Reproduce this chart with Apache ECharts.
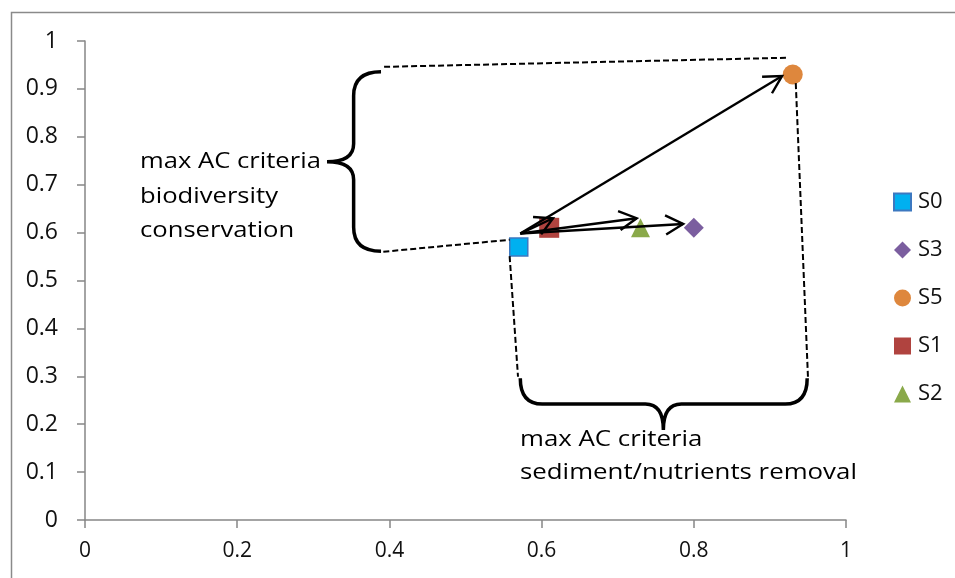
<!DOCTYPE html>
<html><head><meta charset="utf-8">
<script src="https://cdn.jsdelivr.net/npm/echarts@6/dist/echarts.min.js"></script>
<style>html,body{margin:0;padding:0;background:#fff}#c{width:955px;height:578px}</style>
</head><body><div id="c"></div>
<script>
// Data
const seriesNames = ['S0', 'S3', 'S5', 'S1', 'S2'];
const xValues = [0.57, 0.80, 0.93, 0.61, 0.73];
const yValues = [0.57, 0.61, 0.93, 0.61, 0.61];
const xTicks = [0, 0.2, 0.4, 0.6, 0.8, 1];
const yTicks = [0, 0.1, 0.2, 0.3, 0.4, 0.5, 0.6, 0.7, 0.8, 0.9, 1];
// Annotation arrows (data units): start and ends
const arrowStart = [0.572, 0.598];
const arrowEnds = [[0.916, 0.927], [0.615, 0.630], [0.725, 0.630], [0.786, 0.618]];
// Dashed guide lines (data units)
const dashedLines = [
  [[0.393, 0.946], [0.922, 0.965]],
  [[0.392, 0.560], [0.558, 0.585]],
  [[0.558, 0.551], [0.569, 0.299]],
  [[0.934, 0.912], [0.950, 0.299]]
];
const leftLabel = ['max AC criteria', 'biodiversity', 'conservation'];
const bottomLabel = ['max AC criteria', 'sediment/nutrients removal'];

const styles = {
  S0: {symbol: 'rect', size: 18, color: '#00B0F0', border: '#3C78C0', bw: 1.5},
  S3: {symbol: 'diamond', size: 20, color: '#7B5E9F', border: '#7B5E9F', bw: 0},
  S5: {symbol: 'circle', size: 20, color: '#DE873D', border: '#DE873D', bw: 0},
  S1: {symbol: 'rect', size: 20, color: '#B0433F', border: '#B0433F', bw: 0},
  S2: {symbol: 'triangle', size: 19, color: '#8AA94A', border: '#8AA94A', bw: 0}
};
const FONT = 'Open Sans';

const scatterSeries = seriesNames.map((n, i) => ({
  name: n, type: 'scatter', z: 3,
  symbol: styles[n].symbol, symbolSize: styles[n].size,
  itemStyle: {color: styles[n].color, borderColor: styles[n].border, borderWidth: styles[n].bw, opacity: 1},
  data: [[xValues[i], yValues[i]]]
}));

function annotRender(params, api) {
  const children = [];
  dashedLines.forEach(l => {
    const a = api.coord(l[0]), b = api.coord(l[1]);
    children.push({type: 'line', shape: {x1: a[0], y1: a[1], x2: b[0], y2: b[1]},
      style: {stroke: '#000', lineWidth: 2, lineDash: [6, 3]}});
  });
  const s = api.coord(arrowStart);
  arrowEnds.forEach(e => {
    const t = api.coord(e);
    const ang = Math.atan2(t[1] - s[1], t[0] - s[0]);
    const L = 20, spread = 0.5;
    const p1 = [t[0] - L * Math.cos(ang - spread), t[1] - L * Math.sin(ang - spread)];
    const p2 = [t[0] - L * Math.cos(ang + spread), t[1] - L * Math.sin(ang + spread)];
    children.push({type: 'line', shape: {x1: s[0], y1: s[1], x2: t[0], y2: t[1]}, style: {stroke: '#000', lineWidth: 2.4}});
    children.push({type: 'polyline', shape: {points: [p1, t, p2]}, style: {stroke: '#000', lineWidth: 2.4, fill: null}});
  });
  const lt = api.coord([0.389, 0.936]), lb = api.coord([0.389, 0.561]);
  const sp = api.coord([0.353, 0.7])[0], tip = api.coord([0.318, 0.748]);
  const ex = lt[0], top = lt[1], bot = lb[1], mid = tip[1], tx = tip[0];
  const lp = `M${ex},${top} Q${sp},${top} ${sp},${top + 24} L${sp},${mid - 18} Q${sp},${mid} ${tx},${mid} Q${sp},${mid} ${sp},${mid + 18} L${sp},${bot - 24} Q${sp},${bot} ${ex},${bot}`;
  children.push({type: 'path', shape: {pathData: lp}, style: {stroke: '#000', lineWidth: 3.5, fill: null}});
  const bl = api.coord([0.572, 0.296]), br = api.coord([0.949, 0.296]);
  const spy = api.coord([0.7, 0.242])[1], btip = api.coord([0.760, 0.188]);
  const by = bl[1], lx = bl[0], rx = br[0], tpx = btip[0], tpy = btip[1];
  const bp = `M${lx},${by} Q${lx},${spy} ${lx + 22},${spy} L${tpx - 18},${spy} Q${tpx},${spy} ${tpx},${tpy} Q${tpx},${spy} ${tpx + 18},${spy} L${rx - 22},${spy} Q${rx},${spy} ${rx},${by}`;
  children.push({type: 'path', shape: {pathData: bp}, style: {stroke: '#000', lineWidth: 3.5, fill: null}});
  return {type: 'group', children};
}

const chart = echarts.init(document.getElementById('c'), null, {renderer: 'canvas'});
chart.setOption({
  animation: false,
  backgroundColor: '#fff',
  grid: {left: 85, right: 109, top: 41, bottom: 58, containLabel: false},
  xAxis: {
    type: 'value', min: xTicks[0], max: xTicks[xTicks.length - 1], interval: 0.2,
    axisLine: {show: true, lineStyle: {color: '#868686', width: 1.5}},
    axisTick: {show: true, length: 8, lineStyle: {color: '#868686', width: 1.5}},
    splitLine: {show: false},
    axisLabel: {margin: 21, color: '#111', fontFamily: FONT, fontSize: 21,
      formatter: v => String(+v.toFixed(1))}
  },
  yAxis: {
    type: 'value', min: yTicks[0], max: yTicks[yTicks.length - 1], interval: 0.1,
    axisLine: {show: true, lineStyle: {color: '#868686', width: 1.5}},
    axisTick: {show: true, length: 8, lineStyle: {color: '#868686', width: 1.5}},
    splitLine: {show: false},
    axisLabel: {margin: 27, color: '#111', fontFamily: FONT, fontSize: 23,
      formatter: v => String(+v.toFixed(1))}
  },
  legend: {
    orient: 'vertical', left: 888, top: 186, itemGap: 26, itemWidth: 17, itemHeight: 17,
    data: seriesNames, textStyle: {fontFamily: FONT, fontSize: 22, color: '#111', padding: [0, 0, 0, 2]}
  },
  graphic: [
    {type: 'rect', left: 9, top: 10, shape: {width: 1000, height: 700}, style: {fill: null, stroke: '#8a8a8a', lineWidth: 1.5}, silent: true, z: -1},
    {type: 'text', x: 140, y: 145, scaleX: 1.22, style: {text: leftLabel.join('\n'), fontFamily: FONT, fontSize: 21, lineHeight: 34.5, fill: '#000'}},
    {type: 'text', x: 520, y: 424, scaleX: 1.23, style: {text: bottomLabel.join('\n'), fontFamily: FONT, fontSize: 21, lineHeight: 33, fill: '#000'}}
  ],
  series: scatterSeries.concat([{
    type: 'custom', name: 'annot', coordinateSystem: 'cartesian2d', clip: false, z: 5, silent: true,
    renderItem: annotRender, data: [[0, 0]]
  }])
});
</script></body></html>
